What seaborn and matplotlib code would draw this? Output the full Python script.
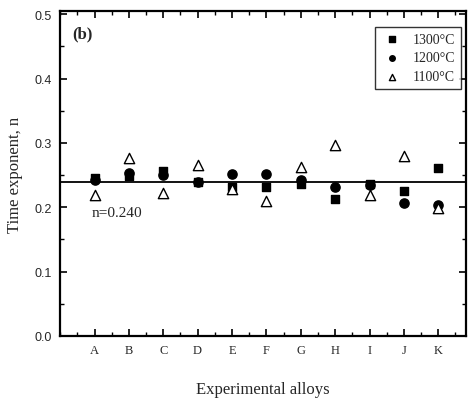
import matplotlib
matplotlib.use("Agg")
import matplotlib.pyplot as plt
import seaborn as sns
import pandas as pd
import numpy as np
from matplotlib.ticker import MultipleLocator

alloys = ["A", "B", "C", "D", "E", "F", "G", "H", "I", "J", "K"]
n_1300 = [0.245, 0.248, 0.256, 0.240, 0.232, 0.231, 0.236, 0.213, 0.236, 0.226, 0.261]
n_1200 = [0.243, 0.253, 0.250, 0.240, 0.251, 0.251, 0.242, 0.231, 0.235, 0.206, 0.203]
n_1100 = [0.219, 0.277, 0.222, 0.266, 0.229, 0.209, 0.263, 0.297, 0.219, 0.280, 0.199]
n_mean = 0.240
temps = ["1300°C", "1200°C", "1100°C"]

rows = []
for t, vals in zip(temps, [n_1300, n_1200, n_1100]):
    for i, (a, v) in enumerate(zip(alloys, vals)):
        rows.append({"alloy": a, "pos": i + 1, "n": v, "temp": t})
df = pd.DataFrame(rows)

sns.set_theme(style="ticks")
plt.rcParams['font.family'] = ['Liberation Serif', 'DejaVu Serif']

fig = plt.figure(figsize=(4.70, 4.02), dpi=100)
ax = fig.add_axes([0.128, 0.162, 0.863, 0.808])

styles = {
    "1300°C": dict(marker="s", s=38, color="black", edgecolor="black"),
    "1200°C": dict(marker="o", s=44, color="black", edgecolor="black"),
    "1100°C": dict(marker="^", s=55, color="white", edgecolor="black"),
}
for t in temps:
    sub = df[df["temp"] == t]
    sns.scatterplot(data=sub, x="pos", y="n", ax=ax, label=t, linewidth=1.0,
                    zorder=3, **styles[t])

ax.axhline(n_mean, color="black", lw=1.3, zorder=2)

ax.set_xlim(0, 11.8)
ax.set_ylim(0, 0.505)
ax.set_xticks(range(1, len(alloys) + 1))
ax.set_xticklabels(alloys)
ax.xaxis.set_minor_locator(MultipleLocator(0.5))
ax.yaxis.set_major_locator(MultipleLocator(0.1))
ax.yaxis.set_minor_locator(MultipleLocator(0.05))
ax.set_yticklabels([f"{v:.1f}" for v in ax.get_yticks()],
                   family=["Liberation Sans", "DejaVu Sans"])
ax.tick_params(which="both", direction="in", top=True, right=True, color="black")
ax.tick_params(which="major", length=5, width=1.2, labelsize=9, pad=6)
ax.tick_params(which="minor", length=3, width=1.0)
for sp in ax.spines.values():
    sp.set_linewidth(1.6)
    sp.set_color("black")

ax.set_xlabel("Experimental alloys", fontsize=12, labelpad=18)
ax.set_ylabel("Time exponent, n", fontsize=12, labelpad=8)

ax.text(0.35, 0.470, "(b)", fontsize=12, fontweight="bold", va="center", ha="left")
ax.text(0.9, 0.192, "n=0.240", fontsize=11, va="center", ha="left")

leg = ax.legend(loc="upper right", frameon=True, fancybox=False, fontsize=10,
                borderpad=0.4, handletextpad=0.7, labelspacing=0.42,
                handlelength=1.6, borderaxespad=0, bbox_to_anchor=(0.988, 0.951),
                markerscale=0.6)
leg.get_frame().set_edgecolor("black")
leg.get_frame().set_linewidth(1.0)

fig.savefig("out.png", dpi=100)
